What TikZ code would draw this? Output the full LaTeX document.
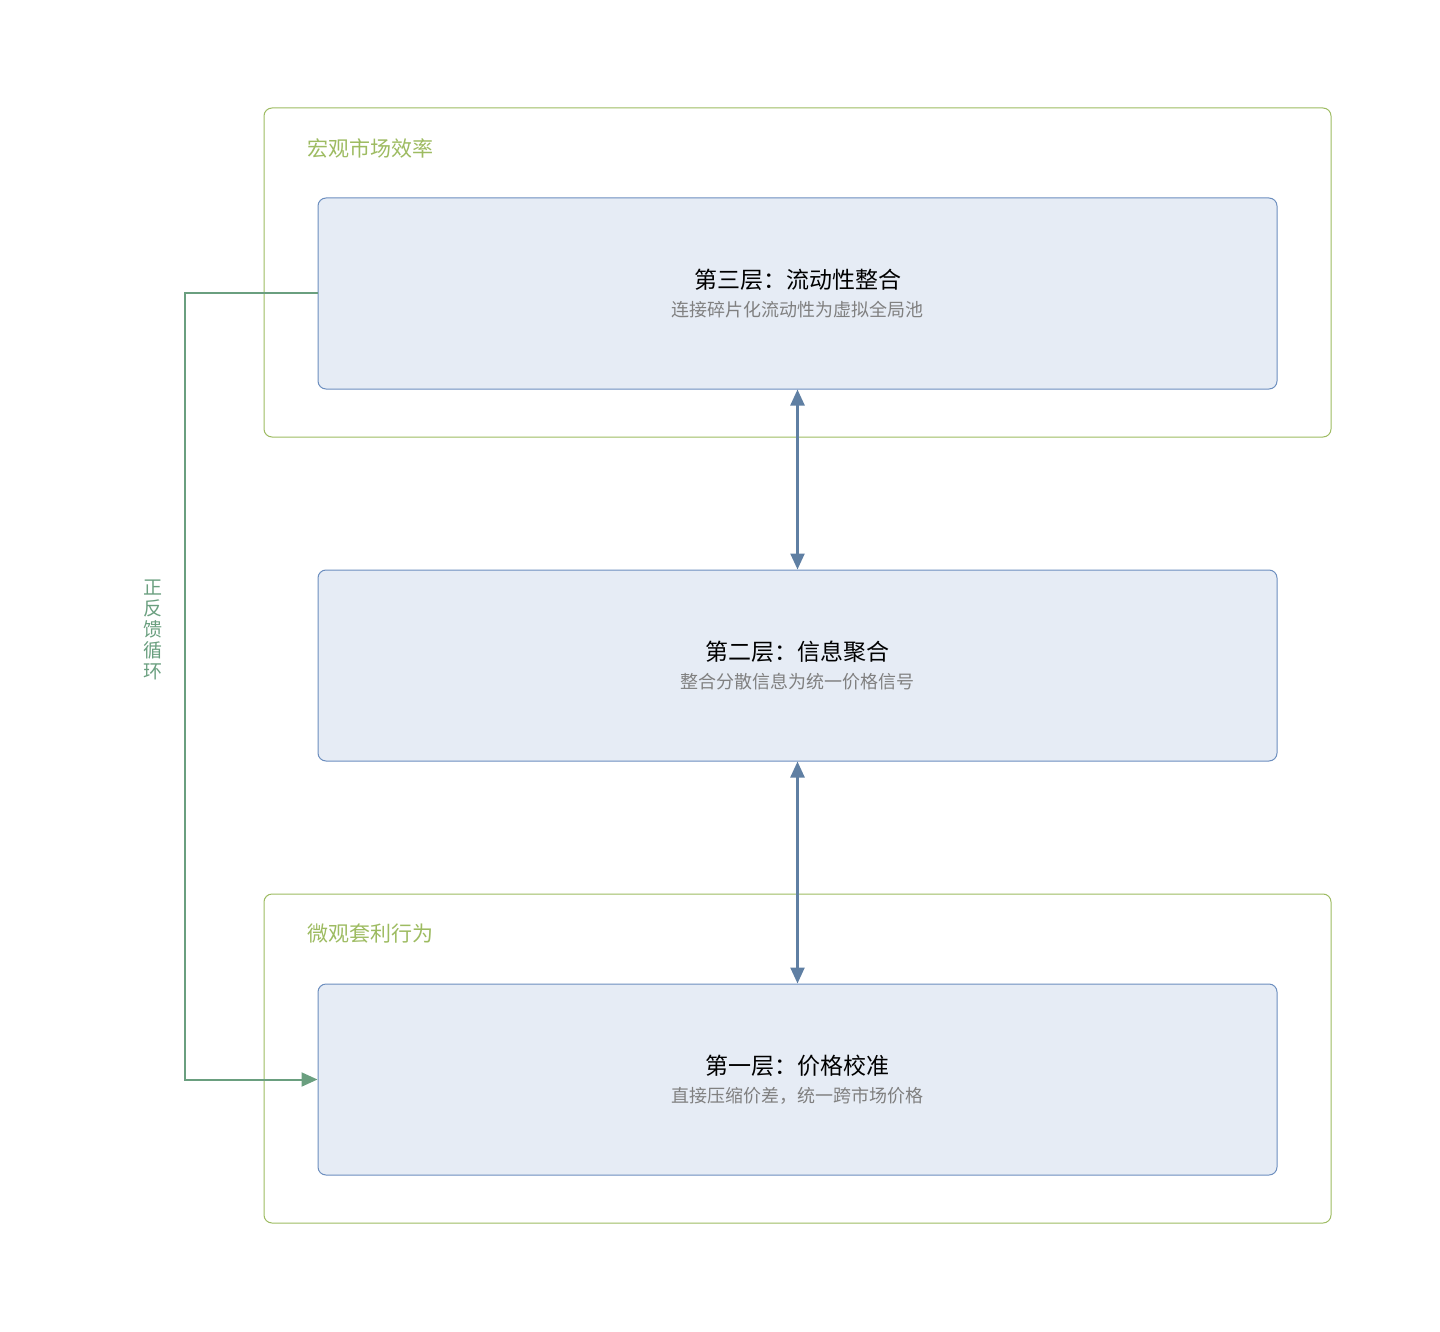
\documentclass[tikz,border=0pt]{standalone}
\usepackage{fontspec}
\setmainfont{Noto Sans CJK SC}
\usetikzlibrary{arrows.meta, positioning}
\definecolor{groupgreen}{HTML}{9DBB61}
\definecolor{layerfill}{HTML}{E6ECF5}
\definecolor{layerdraw}{HTML}{6C8EBF}
\definecolor{linkblue}{HTML}{5F7FA3}
\definecolor{loopgreen}{HTML}{6A9F7F}
\definecolor{subgray}{HTML}{808080}

\begin{document}
\begin{tikzpicture}[x=0.5pt,y=-0.5pt,
 group box/.style={draw=groupgreen,rounded corners=4pt,line width=0.5pt},
 group label/.style={anchor=west,text=groupgreen,font=\fontsize{10.5}{12}\selectfont},
 layer/.style={draw=layerdraw,fill=layerfill,rounded corners=4pt,line width=0.5pt,
  minimum width=479.5pt,minimum height=95.5pt,align=center},
 link/.style={<->,>={Triangle[length=8pt,width=7pt]},draw=linkblue,line width=1.2pt},
 loop/.style={->,>={Triangle[length=8pt,width=7pt]},draw=loopgreen,line width=1pt}]

  \useasboundingbox (0,0) rectangle (1440,1332);

  % groups
  \draw[group box] (264,108) rectangle (1331,437);
  \node[group label] (macro) at (300,148) {宏观市场效率};
  \draw[group box] (264,894) rectangle (1331,1223);
  \node[group label] (micro) at (300,934) {微观套利行为};

  % layers
  \node[layer] (L3) at (797.5,293.5) {{\fontsize{11.5}{16}\selectfont 第三层：流动性整合}\\[2pt]
   {\fontsize{9}{12}\selectfont\color{subgray}连接碎片化流动性为虚拟全局池}};
  \node[layer] (L2) at (797.5,665.5) {{\fontsize{11.5}{16}\selectfont 第二层：信息聚合}\\[2pt]
   {\fontsize{9}{12}\selectfont\color{subgray}整合分散信息为统一价格信号}};
  \node[layer] (L1) at (797.5,1079.5) {{\fontsize{11.5}{16}\selectfont 第一层：价格校准}\\[2pt]
   {\fontsize{9}{12}\selectfont\color{subgray}直接压缩价差，统一跨市场价格}};

  \draw[link] (L3) -- (L2);
  \draw[link] (L2) -- (L1);

  % feedback loop
  \draw[loop] (L3.west) -| (185,700) |- (L1.west);
  \node[text=loopgreen,align=center,font=\fontsize{9.5}{10.5}\selectfont] (fb) at (153,630)
   {正\\反\\馈\\循\\环};
\end{tikzpicture}
\end{document}
